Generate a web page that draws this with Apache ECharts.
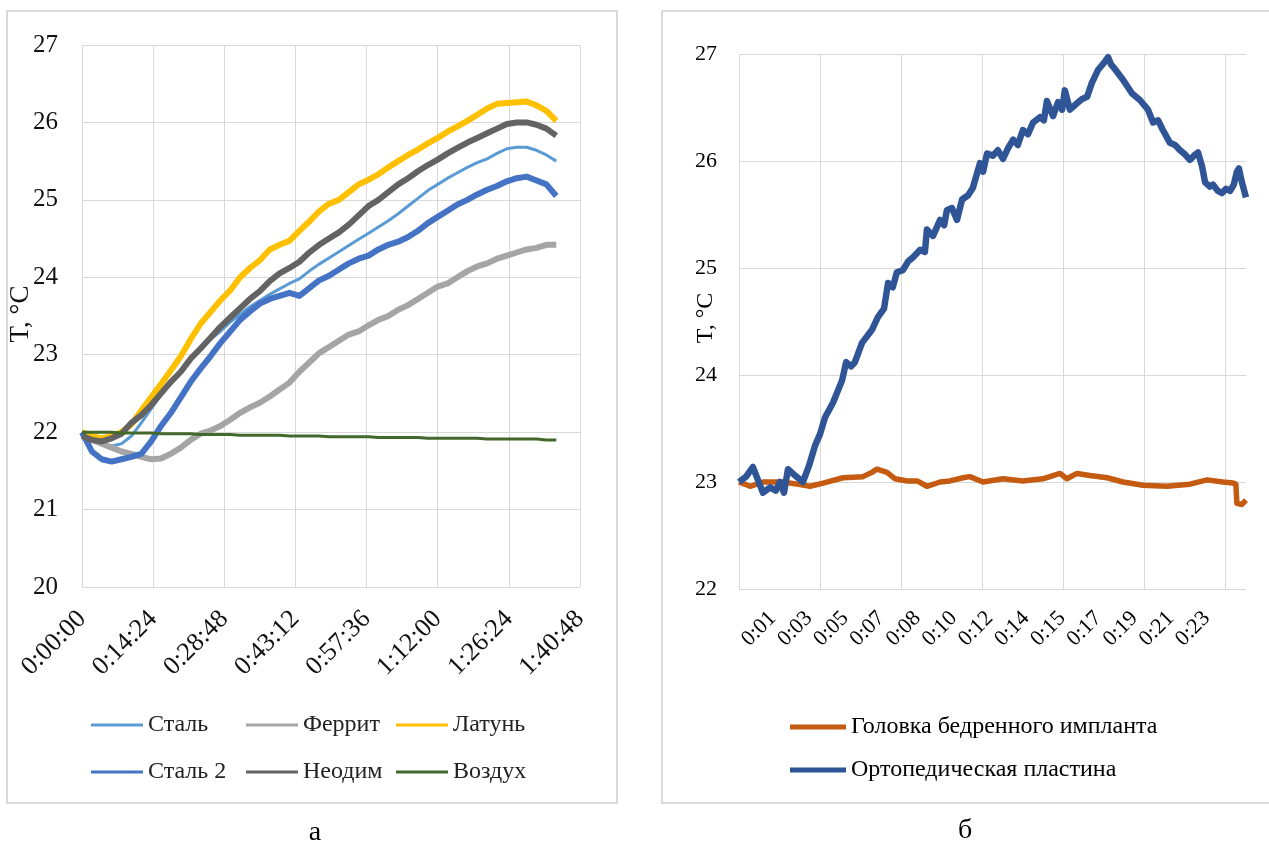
<!DOCTYPE html>
<html><head><meta charset="utf-8">
<script src="https://cdn.jsdelivr.net/npm/echarts@6/dist/echarts.min.js"></script>
<style>html,body{margin:0;padding:0;background:#fff}#c{width:1269px;height:843px}</style>
</head><body><div id="c"></div>
<script>
// ---------- Panel а (left) ----------
const leftTickLabels = ['0:00:00','0:14:24','0:28:48','0:43:12','0:57:36','1:12:00','1:26:24','1:40:48'];
const leftTimes = [0,120,240,360,480,600,720,840,960,1080,1200,1320,1440,1560,1680,1800,1920,2040,2160,2280,2400,2520,2640,2760,2880,3000,3120,3240,3360,3480,3600,3720,3840,3960,4080,4200,4320,4440,4560,4680,4800,4920,5040,5160,5280,5400,5520,5640,5760];
const stal = [21.98,21.90,21.85,21.82,21.85,21.95,22.12,22.30,22.48,22.65,22.80,22.95,23.10,23.20,23.30,23.42,23.52,23.62,23.70,23.78,23.85,23.92,23.98,24.08,24.17,24.25,24.33,24.41,24.49,24.57,24.65,24.73,24.82,24.92,25.02,25.12,25.20,25.28,25.35,25.42,25.48,25.53,25.60,25.66,25.68,25.68,25.64,25.58,25.50];
const ferrit = [21.98,21.90,21.85,21.80,21.75,21.72,21.68,21.65,21.66,21.72,21.80,21.90,21.98,22.02,22.08,22.16,22.25,22.32,22.38,22.46,22.55,22.64,22.78,22.90,23.02,23.10,23.18,23.26,23.30,23.38,23.45,23.50,23.58,23.64,23.72,23.80,23.88,23.92,24.00,24.08,24.14,24.18,24.24,24.28,24.32,24.36,24.38,24.42,24.42];
const latun = [22.00,21.95,21.92,21.95,22.00,22.10,22.28,22.45,22.62,22.80,22.98,23.20,23.40,23.55,23.70,23.83,24.00,24.12,24.22,24.36,24.42,24.47,24.60,24.72,24.85,24.95,25.00,25.10,25.20,25.26,25.33,25.42,25.50,25.58,25.65,25.73,25.80,25.88,25.95,26.02,26.10,26.18,26.24,26.25,26.26,26.27,26.22,26.15,26.02];
const stal2 = [22.00,21.75,21.65,21.62,21.65,21.68,21.72,21.88,22.08,22.25,22.45,22.65,22.82,22.98,23.15,23.30,23.45,23.56,23.66,23.72,23.76,23.80,23.76,23.86,23.96,24.02,24.10,24.18,24.24,24.28,24.36,24.42,24.46,24.52,24.60,24.70,24.78,24.86,24.94,25.00,25.07,25.13,25.18,25.24,25.28,25.30,25.25,25.20,25.05];
const neodim = [21.95,21.90,21.88,21.92,21.98,22.12,22.22,22.35,22.50,22.65,22.78,22.95,23.08,23.22,23.36,23.48,23.60,23.72,23.82,23.95,24.05,24.12,24.20,24.32,24.42,24.50,24.58,24.68,24.80,24.92,25.00,25.10,25.20,25.28,25.37,25.45,25.52,25.60,25.67,25.74,25.80,25.86,25.92,25.98,26.00,26.00,25.97,25.92,25.83];
const vozduh = [22.00,22.00,22.00,22.00,21.99,21.99,21.99,21.99,21.98,21.98,21.98,21.98,21.97,21.97,21.97,21.97,21.96,21.96,21.96,21.96,21.96,21.95,21.95,21.95,21.95,21.94,21.94,21.94,21.94,21.94,21.93,21.93,21.93,21.93,21.93,21.92,21.92,21.92,21.92,21.92,21.92,21.91,21.91,21.91,21.91,21.91,21.91,21.90,21.90];

// ---------- Panel б (right) ----------
const rightTickSeconds = [100,207,314,421,528,635,742,849,956,1063,1170,1277,1384];
const rightTickLabels = ['0:01','0:03','0:05','0:07','0:08','0:10','0:12','0:14','0:15','0:17','0:19','0:21','0:23'];
const plateTimes = [0,21,41,56,71,92,109,121,133,145,166,189,207,225,240,254,278,305,317,331,343,364,393,411,429,441,455,467,485,500,515,536,550,556,574,595,607,615,630,645,660,678,692,713,722,734,751,766,781,796,811,825,840,855,870,891,902,911,929,944,956,964,979,1000,1015,1030,1044,1062,1083,1092,1101,1112,1136,1163,1186,1210,1225,1240,1254,1275,1290,1305,1320,1334,1346,1358,1370,1379,1393,1402,1417,1429,1441,1453,1464,1473,1479,1488,1500];
const plateTemps = [23.0,23.05,23.14,23.02,22.9,22.95,22.92,23.0,22.9,23.12,23.06,23.0,23.15,23.34,23.45,23.6,23.74,23.95,24.12,24.08,24.12,24.3,24.42,24.54,24.62,24.86,24.82,24.96,24.98,25.06,25.1,25.17,25.15,25.36,25.3,25.45,25.4,25.54,25.56,25.45,25.64,25.68,25.75,25.98,25.9,26.07,26.05,26.1,26.02,26.12,26.2,26.15,26.29,26.25,26.36,26.41,26.38,26.56,26.42,26.55,26.48,26.66,26.48,26.54,26.58,26.6,26.73,26.85,26.93,26.97,26.9,26.86,26.76,26.63,26.57,26.48,26.36,26.38,26.29,26.17,26.15,26.1,26.06,26.01,26.05,26.08,25.95,25.8,25.76,25.78,25.72,25.7,25.74,25.72,25.78,25.9,25.93,25.8,25.66];
const headTimes = [0,33,71,130,172,210,249,308,367,393,408,438,462,497,527,556,595,624,663,683,722,781,840,899,950,970,1000,1038,1089,1136,1195,1266,1334,1385,1432,1462,1470,1473,1488,1500];
const headTemps = [23.0,22.96,23.0,23.0,22.98,22.96,22.99,23.04,23.05,23.09,23.12,23.09,23.03,23.01,23.01,22.96,23.0,23.01,23.04,23.05,23.0,23.03,23.01,23.03,23.08,23.03,23.08,23.06,23.04,23.0,22.97,22.96,22.98,23.02,23.0,22.99,22.98,22.8,22.79,22.83];

const FONT = '"Liberation Serif","Times New Roman",serif';
const GRID = '#D9D9D9';
const zip = (xs, ys) => xs.map((x, i) => [x, ys[i]]);

function leftSeries(name, vals, color, w) {
  return {name, type:'line', xAxisIndex:0, yAxisIndex:0, data:zip(leftTimes, vals),
    showSymbol:false, symbol:'none', silent:true, color, lineStyle:{color, width:w, join:'round'}};
}
const legendText = (c) => ({fontSize:24, fontFamily:FONT, color:c, lineHeight:24});

const chart = echarts.init(document.getElementById('c'), null, {renderer:'canvas'});
chart.setOption({
  animation:false,
  backgroundColor:'#fff',
  grid:[{left:82, top:45, width:498, height:542},{left:739, top:54, width:507, height:535}],
  xAxis:[
    {gridIndex:0, type:'value', min:0, max:6048, interval:864,
     axisLine:{show:false}, axisTick:{show:false},
     splitLine:{show:true, lineStyle:{color:GRID, width:1}},
     axisLabel:{rotate:45, fontSize:26, fontFamily:FONT, color:'#111', margin:28,
       formatter:v => leftTickLabels[Math.round(v/864)]}},
    {gridIndex:1, type:'value', min:0, max:1500,
     axisLine:{show:false}, axisTick:{show:false}, splitLine:{show:false},
     axisLabel:{customValues:rightTickSeconds, rotate:45, fontSize:22, fontFamily:FONT, color:'#000', margin:26,
       formatter:v => rightTickLabels[rightTickSeconds.indexOf(v)]}},
    {gridIndex:1, type:'value', min:0, max:1500, interval:240, position:'bottom',
     axisLine:{show:false}, axisTick:{show:false}, axisLabel:{show:false},
     splitLine:{show:true, showMaxLine:false, lineStyle:{color:GRID, width:1}}}
  ],
  yAxis:[
    {gridIndex:0, type:'value', min:20, max:27, interval:1,
     axisLine:{show:false}, axisTick:{show:false},
     splitLine:{show:true, lineStyle:{color:GRID, width:1}},
     axisLabel:{fontSize:25, fontFamily:FONT, color:'#111', margin:24}},
    {gridIndex:1, type:'value', min:22, max:27, interval:1,
     axisLine:{show:false}, axisTick:{show:false},
     splitLine:{show:true, lineStyle:{color:GRID, width:1}},
     axisLabel:{fontSize:22, fontFamily:FONT, color:'#000', margin:22}}
  ],
  legend:[
    {left:91, top:713, padding:0, orient:'vertical', itemGap:23, itemWidth:52, itemHeight:3, icon:'rect',
     data:['Сталь','Сталь 2'], selectedMode:false, textStyle:legendText('#222')},
    {left:246, top:713, padding:0, orient:'vertical', itemGap:23, itemWidth:52, itemHeight:3, icon:'rect',
     data:['Феррит','Неодим'], selectedMode:false, textStyle:legendText('#222')},
    {left:396, top:713, padding:0, orient:'vertical', itemGap:23, itemWidth:52, itemHeight:3, icon:'rect',
     data:['Латунь','Воздух'], selectedMode:false, textStyle:legendText('#222')},
    {left:790, top:715, padding:0, orient:'vertical', itemGap:19, itemWidth:56, itemHeight:5, icon:'rect',
     data:['Головка бедренного импланта','Ортопедическая пластина'], selectedMode:false,
     textStyle:legendText('#000')}
  ],
  graphic:[
    {type:'rect', silent:true, shape:{x:7, y:11, width:610, height:792},
     style:{fill:'none', stroke:'#D9D9D9', lineWidth:2}},
    {type:'rect', silent:true, shape:{x:662, y:11, width:620, height:792},
     style:{fill:'none', stroke:'#D9D9D9', lineWidth:2}},
    {type:'text', silent:true, x:21, y:314, rotation:Math.PI/2,
     style:{text:'T, °C', font:'27px "Liberation Serif"', fill:'#111', align:'center', verticalAlign:'middle'}},
    {type:'text', silent:true, x:706, y:318, rotation:Math.PI/2,
     style:{text:'T, °C', font:'24px "Liberation Serif"', fill:'#000', align:'center', verticalAlign:'middle'}},
    {type:'text', silent:true, x:315, y:833,
     style:{text:'а', font:'28px "Liberation Serif"', fill:'#000', align:'center', verticalAlign:'middle'}},
    {type:'text', silent:true, x:965, y:831,
     style:{text:'б', font:'28px "Liberation Serif"', fill:'#000', align:'center', verticalAlign:'middle'}}
  ],
  series:[
    leftSeries('Сталь', stal, '#5B9BD5', 3),
    leftSeries('Феррит', ferrit, '#A5A5A5', 6),
    leftSeries('Латунь', latun, '#FFC000', 6),
    leftSeries('Сталь 2', stal2, '#4472C4', 6),
    leftSeries('Неодим', neodim, '#636363', 6),
    leftSeries('Воздух', vozduh, '#43682B', 3),
    {name:'Головка бедренного импланта', type:'line', xAxisIndex:1, yAxisIndex:1,
     data:zip(headTimes, headTemps), showSymbol:false, symbol:'none', silent:true,
     color:'#C55A11', lineStyle:{color:'#C55A11', width:5.5, join:'round'}},
    {name:'Ортопедическая пластина', type:'line', xAxisIndex:1, yAxisIndex:1,
     data:zip(plateTimes, plateTemps), showSymbol:false, symbol:'none', silent:true,
     color:'#2F5597', lineStyle:{color:'#2F5597', width:6.5, join:'round'}}
  ]
});
</script></body></html>
